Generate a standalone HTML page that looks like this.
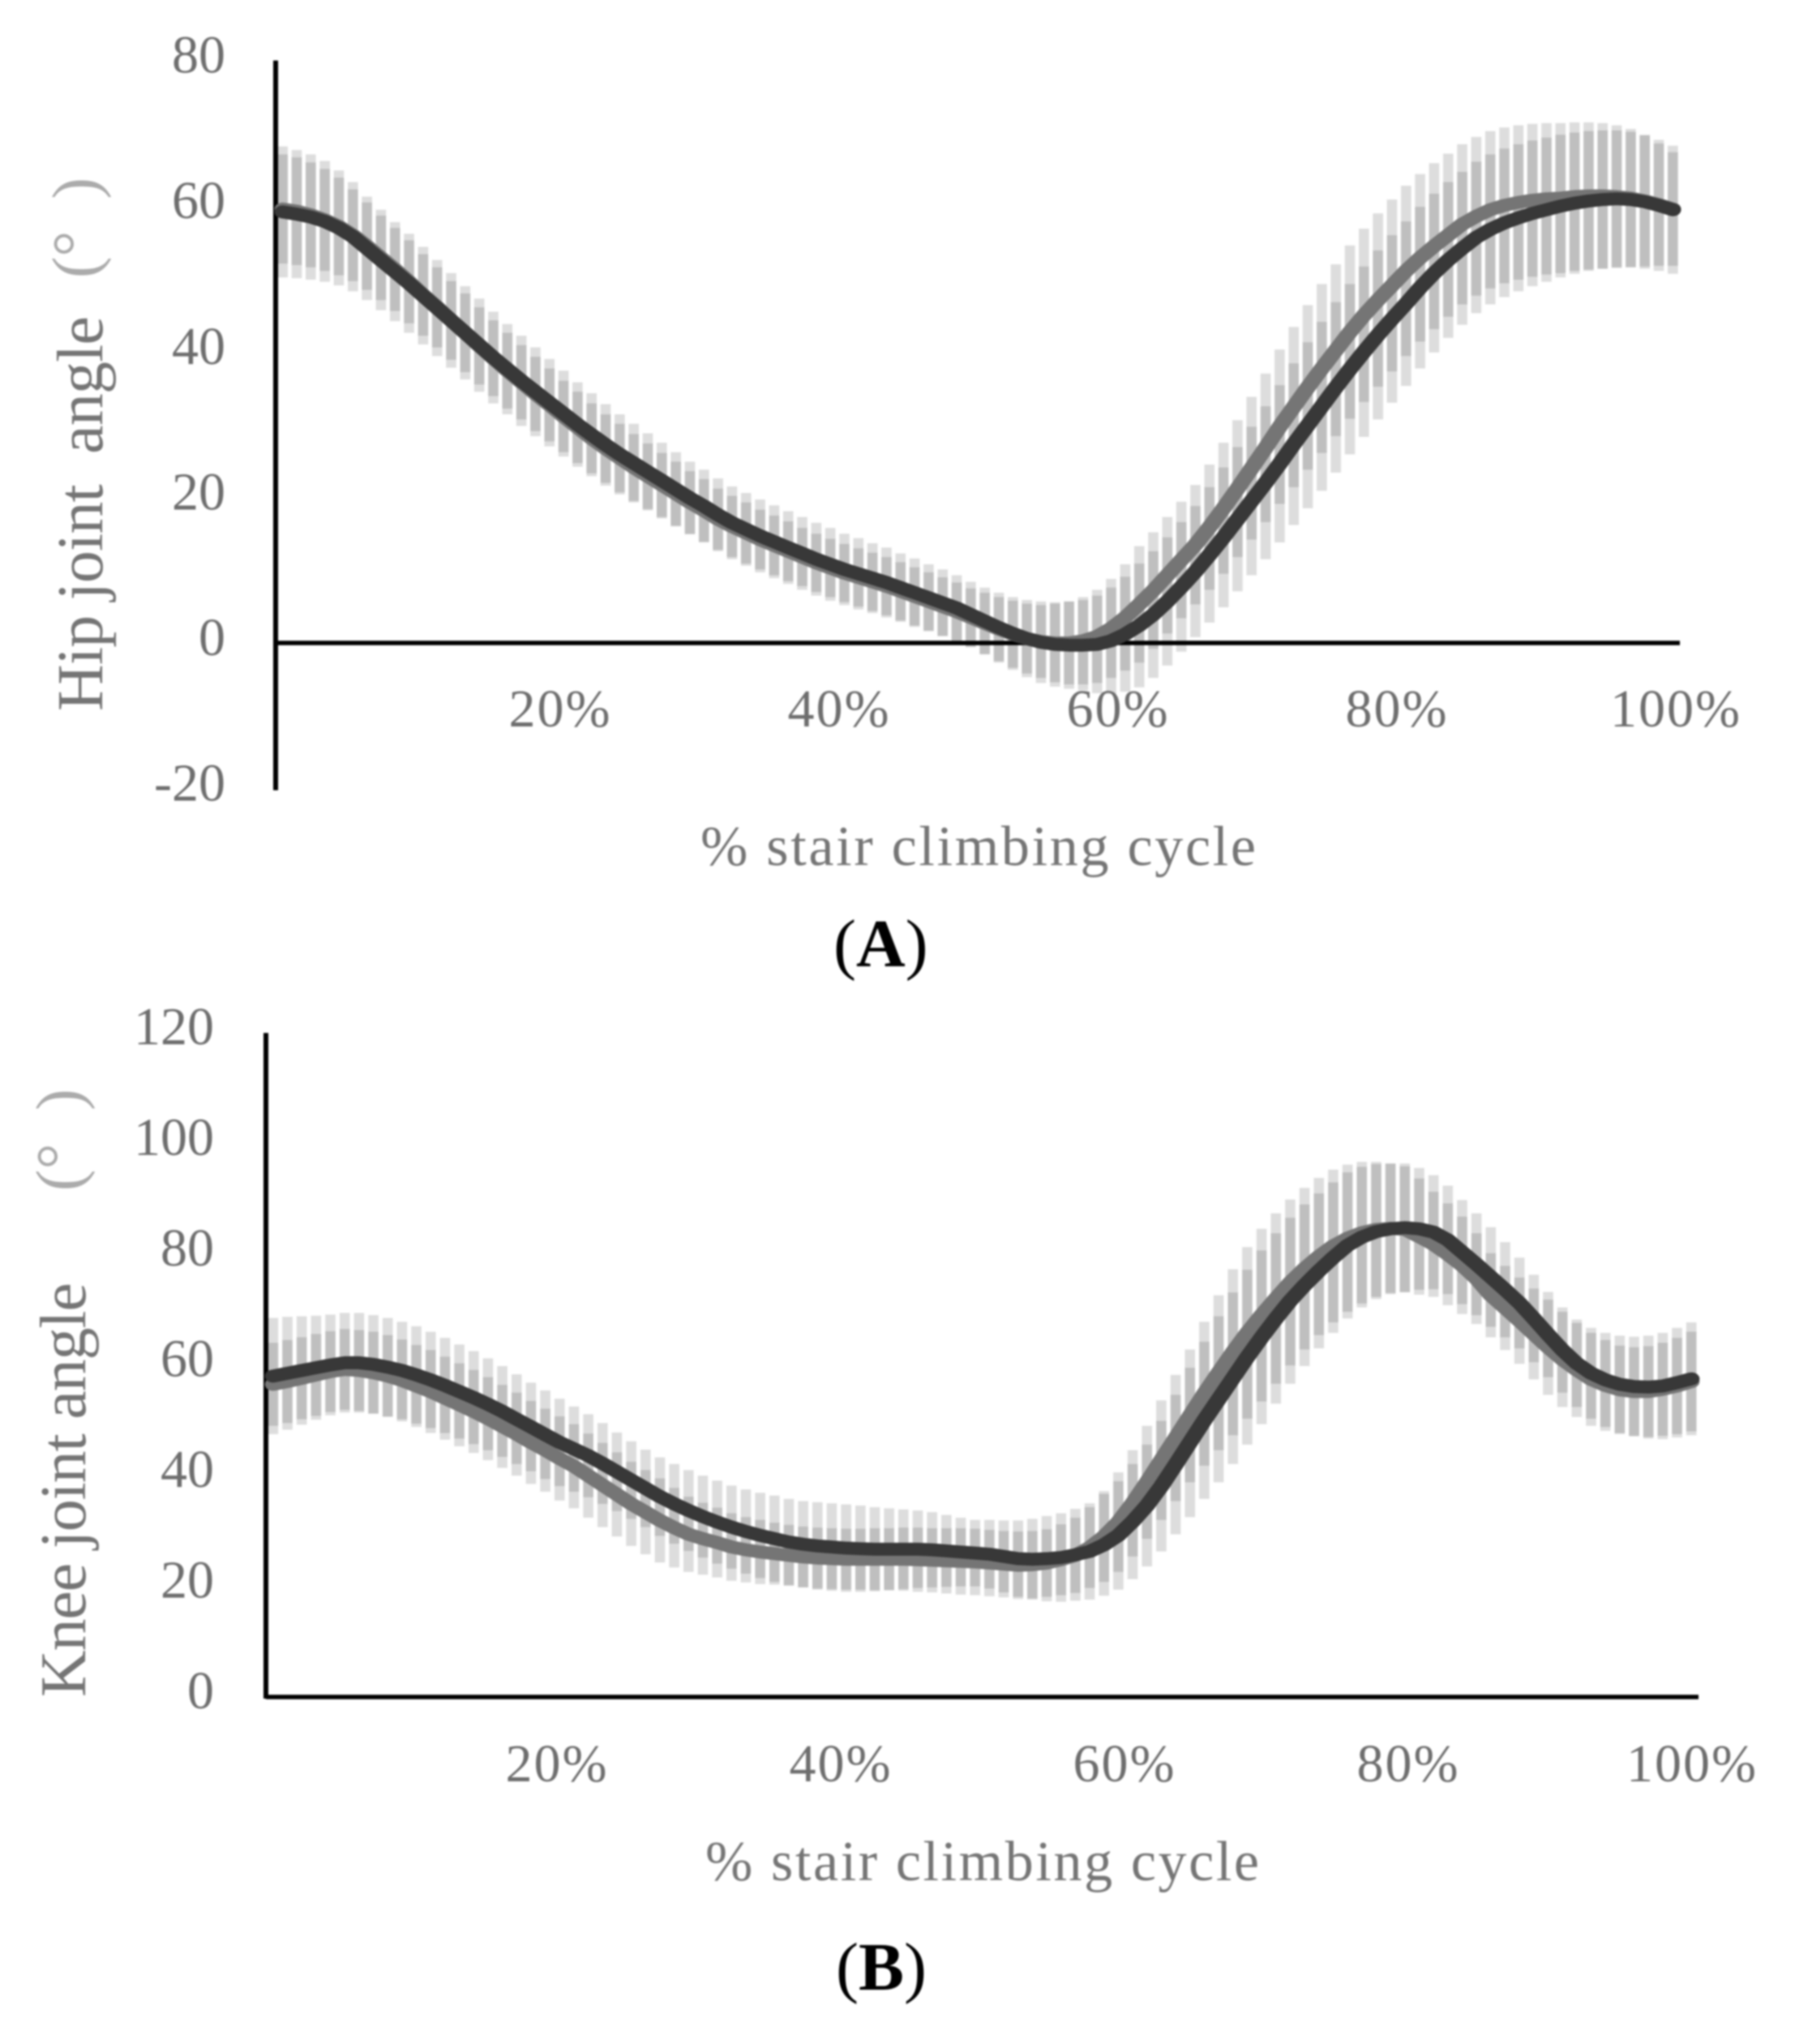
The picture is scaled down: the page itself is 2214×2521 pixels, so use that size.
<!DOCTYPE html>
<html lang="en">
<head>
<meta charset="utf-8">
<title>Hip and knee joint angle during stair climbing</title>
<style>
html,body{margin:0;padding:0;background:#fff;}
body{width:2214px;height:2521px;overflow:hidden;}
svg{display:block;filter:blur(1px);}
text{font-family:"Liberation Serif","Noto Serif CJK SC",serif;}
.tick{font-size:66px;fill:#6e6e6e;}
.title{fill:#757575;}
.paren{fill:#ababab;}
.caption{font-size:84px;fill:#000;}
</style>
</head>
<body>
<svg id="fig" xmlns="http://www.w3.org/2000/svg" width="2214" height="2521" viewBox="0 0 2214 2521">
  <rect x="0" y="0" width="2214" height="2521" fill="#fff"/>
  <g id="chartA"></g>
  <g id="chartB"></g>

  <text class="title" x="864" y="1067" font-size="70" textLength="685">% stair climbing cycle</text>
  <text class="title" transform="translate(126 877) rotate(-90)" x="0" y="0" font-size="80" textLength="487">Hip joint&#160;&#160;angle</text>
  <text class="paren" transform="translate(120 343) rotate(-90)" x="0" y="0" font-size="80" textLength="124">(°&#160;&#160;)</text>
  <text class="caption" x="1028" y="1192">(<tspan font-weight="bold">A</tspan>)</text>

  <text class="title" x="870" y="2319" font-size="70" textLength="683">% stair climbing cycle</text>
  <text class="title" transform="translate(105 2093) rotate(-90)" x="0" y="0" font-size="80" textLength="511">Knee joint angle</text>
  <text class="paren" transform="translate(100 1469) rotate(-90)" x="0" y="0" font-size="80" textLength="126">(°&#160;&#160;)</text>
  <text class="caption" x="1031" y="2454">(<tspan font-weight="bold">B</tspan>)</text>
</svg>
<script>
// ---------- tick labels ----------
var xTickPercents = [20, 40, 60, 80, 100];
var hipYTicks = [80, 60, 40, 20, 0, -20];
var kneeYTicks = [120, 100, 80, 60, 40, 20, 0];

// ---------- hip joint angle (one value per 1% of cycle) ----------
var hipDarkMean = [59.2,58.9,58.5,57.9,57.0,55.8,54.2,52.6,51.0,49.4,47.7,46.0,44.3,42.6,40.9,39.2,37.6,36.0,34.5,33.0,
31.5,30.0,28.6,27.2,25.9,24.7,23.5,22.3,21.1,19.9,18.8,17.6,16.5,15.6,14.7,13.9,13.1,12.3,11.5,10.8,
10.1,9.5,8.9,8.3,7.6,6.9,6.2,5.5,4.8,3.9,3.0,2.1,1.3,0.6,0.1,-0.2,-0.3,-0.3,-0.2,0.3,
1.2,2.4,3.9,5.7,7.7,9.8,12.1,14.5,17.0,19.5,22.0,24.6,27.3,29.9,32.5,35.1,37.6,40.0,42.3,44.5,
46.6,48.8,50.8,52.6,54.2,55.7,56.8,57.7,58.4,59.0,59.5,60.0,60.4,60.7,60.9,61.0,60.9,60.6,60.1,59.5];
var hipGrayMean = [59.6,59.3,58.8,58.1,57.2,56.0,54.5,52.9,51.3,49.6,47.8,46.1,44.3,42.6,40.8,39.1,37.4,35.8,34.2,32.7,
31.1,29.6,28.1,26.7,25.4,24.1,22.9,21.7,20.5,19.3,18.2,17.0,16.0,15.1,14.2,13.4,12.6,11.8,11.0,10.3,
9.6,9.0,8.4,7.8,7.1,6.4,5.7,5.0,4.3,3.5,2.7,1.9,1.2,0.6,0.2,0.0,0.0,0.3,0.9,2.0,
3.5,5.3,7.2,9.3,11.4,13.5,15.9,18.5,21.2,24.0,26.8,29.7,32.4,35.1,37.7,40.2,42.7,45.0,47.1,49.1,
51.1,52.9,54.5,56.0,57.5,58.6,59.5,60.1,60.5,60.8,61.0,61.1,61.3,61.4,61.4,61.3,61.1,60.7,60.2,59.6];
var hipDarkSd = [9.0,8.8,8.6,8.3,7.9,7.5,7.1,6.9,6.8,6.8,6.7,6.6,6.5,6.4,6.4,6.3,6.2,6.2,6.1,6.0,
5.9,5.8,5.7,5.6,5.5,5.4,5.3,5.2,5.1,5.0,5.0,5.0,5.0,5.0,5.0,5.0,5.0,5.0,5.0,5.0,
4.9,4.9,4.8,4.8,4.7,4.7,4.6,4.6,4.5,4.5,4.6,4.8,5.0,5.3,5.6,5.8,6.0,6.2,6.7,7.3,
7.9,8.5,8.7,8.8,8.9,9.0,9.3,9.6,9.9,10.2,10.5,10.8,11.1,11.4,11.6,11.7,11.7,11.7,11.6,11.5,
11.3,11.1,10.9,10.7,10.5,10.4,10.3,10.2,10.1,10.0,9.9,9.8,9.7,9.6,9.5,9.4,9.3,9.2,9.0,8.8];
var hipGraySd = [7.5,7.4,7.2,7.0,6.7,6.3,6.0,5.8,5.7,5.7,5.6,5.5,5.4,5.4,5.3,5.2,5.2,5.1,5.1,5.0,
4.9,4.9,4.8,4.7,4.7,4.6,4.5,4.4,4.4,4.3,4.3,4.2,4.2,4.2,4.1,4.1,4.1,4.0,4.0,4.0,
4.0,4.0,4.0,4.0,4.0,4.0,4.0,4.0,4.0,4.0,4.2,4.4,4.6,4.8,5.0,5.4,5.7,6.0,6.4,6.8,
7.3,8.0,8.0,8.0,8.0,8.2,8.6,9.0,9.4,9.8,10.2,10.6,11.0,11.3,11.6,11.8,11.9,11.9,11.9,11.8,
11.7,11.5,11.4,11.2,11.0,10.9,10.8,10.7,10.6,10.5,10.4,10.3,10.2,10.1,10.0,9.8,9.5,9.0,8.4,7.8];

// ---------- knee joint angle (one value per 1% of cycle) ----------
var kneeDarkMean = [58.0,58.5,59.0,59.5,60.0,60.4,60.4,60.1,59.6,59.0,58.2,57.3,56.3,55.2,54.1,52.9,51.6,50.2,48.8,47.4,
46.0,44.8,43.6,42.2,40.7,39.2,37.7,36.2,34.9,33.7,32.6,31.6,30.7,29.9,29.2,28.6,28.0,27.6,27.3,27.1,
26.9,26.8,26.7,26.7,26.7,26.7,26.6,26.4,26.2,26.0,25.8,25.4,25.0,24.9,25.0,25.2,25.7,26.3,27.5,29.2,
31.7,34.6,38.1,42.0,46.0,50.0,53.8,57.6,61.4,65.0,68.4,71.6,74.4,77.0,79.4,81.6,83.1,84.1,84.6,84.8,
84.6,84.0,82.6,80.4,78.2,75.9,73.6,71.2,68.4,65.5,62.7,60.3,58.5,57.3,56.5,56.1,56.0,56.2,56.8,57.5];
var kneeGrayMean = [56.5,57.0,57.6,58.2,58.8,59.2,59.0,58.6,58.0,57.2,56.2,55.2,54.0,52.8,51.6,50.3,48.9,47.5,46.0,44.6,
43.1,41.7,40.0,38.3,36.6,34.9,33.4,31.9,30.6,29.4,28.6,27.9,27.1,26.6,26.2,25.9,25.6,25.3,25.1,25.0,
24.9,24.9,24.9,24.9,24.9,24.8,24.7,24.6,24.5,24.4,24.2,24.0,23.8,23.9,24.2,24.8,25.6,27.0,29.0,31.6,
35.0,38.8,42.8,46.8,50.8,54.8,58.6,62.3,65.8,69.0,72.0,74.9,77.4,79.6,81.5,82.9,83.9,84.5,84.7,84.5,
83.2,81.8,80.0,78.0,75.6,72.6,70.3,68.0,65.6,63.2,61.0,59.1,57.4,56.3,55.5,55.2,55.2,55.6,56.2,57.0];
var kneeDarkSd = [10.5,10.2,9.8,9.4,9.1,9.0,9.0,8.9,8.9,8.8,8.8,8.7,8.6,8.5,8.4,8.3,8.2,8.1,8.0,8.0,
7.9,7.7,7.5,7.3,7.1,7.0,7.0,7.1,7.2,7.3,7.4,7.5,7.5,7.6,7.7,7.8,7.8,7.8,7.9,7.9,
7.9,7.8,7.6,7.4,7.2,7.0,6.8,6.5,6.2,6.0,6.2,6.5,6.9,7.3,7.7,8.0,8.3,8.7,9.2,9.8,
10.4,11.0,11.8,12.6,13.5,14.2,15.0,15.5,15.8,15.7,15.4,15.0,14.6,14.0,13.6,13.2,12.7,12.2,11.8,11.6,
11.0,10.3,9.8,9.4,9.2,9.0,8.6,8.2,7.9,7.7,7.7,7.9,8.2,8.5,8.8,9.0,9.3,9.6,9.9,10.2];
var kneeGraySd = [7.5,7.5,7.4,7.4,7.3,7.3,7.3,7.4,7.4,7.4,7.4,7.5,7.5,7.5,7.5,7.5,7.5,7.5,7.5,7.5,
7.6,7.6,7.6,7.6,7.6,7.6,7.6,7.6,7.2,6.8,6.5,6.3,6.1,5.9,5.8,5.6,5.5,5.5,5.5,5.5,
5.5,5.5,5.6,5.6,5.7,5.8,5.8,5.9,6.0,6.0,6.0,6.0,6.1,6.1,6.1,6.4,6.8,7.3,8.2,9.0,
9.6,10.2,10.8,11.4,12.0,13.0,14.0,15.0,15.5,15.6,15.4,15.0,14.6,14.2,13.8,13.3,12.8,12.2,11.7,11.4,
10.5,9.5,9.2,8.8,8.2,7.6,7.6,7.8,8.2,8.6,8.6,8.5,8.4,8.2,8.0,8.0,8.2,8.4,8.7,9.0];

var SVGNS = 'http://www.w3.org/2000/svg';
var STROKE_STRETCH = 1.27;
function mk(parent, tag) {
  var el = document.createElementNS(SVGNS, tag);
  parent.appendChild(el);
  return el;
}

function drawChart(parent, cfg) {
  var n = cfg.dark.length;
  var step = (cfg.xEnd - cfg.xStart) / n;
  function xCat(i) { return cfg.xStart + step * (i + 0.5); }
  function yVal(v) { return cfg.yZero - cfg.pxPerUnit * v; }
  function xLabel(p) { return cfg.labelA + cfg.labelB * p; }

  // axes
  var xAxis = mk(parent, 'line');
  
  
  xAxis.setAttribute('x1', cfg.xStart);
  xAxis.setAttribute('x2', cfg.xEnd);
  xAxis.setAttribute('y1', yVal(0));
  xAxis.setAttribute('y2', yVal(0));
  xAxis.setAttribute('stroke', '#000');
  xAxis.setAttribute('stroke-width', 5.5);

  var yAxis = mk(parent, 'line');
  
  
  yAxis.setAttribute('x1', cfg.xStart);
  yAxis.setAttribute('x2', cfg.xStart);
  yAxis.setAttribute('y1', yVal(cfg.yTicks[0]));
  yAxis.setAttribute('y2', yVal(cfg.yTicks[cfg.yTicks.length - 1]) + 2);
  yAxis.setAttribute('stroke', '#000');
  yAxis.setAttribute('stroke-width', 6);

  // error bars
  function bars(mean, sd, label) {
    var g = mk(parent, 'g');
    
    
    for (var i = 0; i < mean.length; i++) {
      var top = yVal(mean[i] + sd[i]);
      var bottom = yVal(mean[i] - sd[i]);
      var r = mk(g, 'rect');
      
      
      r.setAttribute('x', xCat(i) - 6.3);
      r.setAttribute('width', 12.6);
      r.setAttribute('y', top);
      r.setAttribute('height', bottom - top);
      r.setAttribute('fill', '#000');
      r.setAttribute('fill-opacity', 0.135);
    }
  }
  bars(cfg.gray, cfg.graySd, 'gray-series');
  bars(cfg.dark, cfg.darkSd, 'dark-series');

  // mean lines (drawn in a horizontally stretched space so the stroke is wider on steep parts)
  function meanLine(mean, color, label) {
    var d = '';
    for (var i = 0; i < mean.length; i++) {
      d += (i ? 'L' : 'M') + (xCat(i) / STROKE_STRETCH).toFixed(2) + ' ' + yVal(mean[i]).toFixed(1);
    }
    var p = mk(parent, 'path');
    
    
    p.setAttribute('transform', 'scale(' + STROKE_STRETCH + ' 1)');
    p.setAttribute('d', d);
    p.setAttribute('fill', 'none');
    p.setAttribute('stroke', color);
    p.setAttribute('stroke-width', 16);
    p.setAttribute('stroke-linecap', 'round');
    p.setAttribute('stroke-linejoin', 'round');
  }
  meanLine(cfg.gray, '#757575', 'gray-series');
  meanLine(cfg.dark, '#383838', 'dark-series');

  // y tick labels
  cfg.yTicks.forEach(function (v) {
    var t = mk(parent, 'text');
    
    
    t.setAttribute('class', 'tick');
    t.setAttribute('x', cfg.yLabelX);
    t.setAttribute('y', yVal(v) + cfg.yLabelDy);
    t.setAttribute('text-anchor', 'end');
    t.textContent = String(v);
  });

  // x tick labels
  cfg.xTicks.forEach(function (p) {
    var t = mk(parent, 'text');
    
    
    t.setAttribute('class', 'tick');
    t.setAttribute('x', xLabel(p));
    t.setAttribute('y', cfg.xLabelY);
    t.setAttribute('text-anchor', 'middle');
    t.setAttribute('letter-spacing', '2');
    t.textContent = p + '%';
  });
}

drawChart(document.getElementById('chartA'), {
  dark: hipDarkMean, gray: hipGrayMean, darkSd: hipDarkSd, graySd: hipGraySd,
  xStart: 340, xEnd: 2072, yZero: 793, pxPerUnit: 8.98,
  yTicks: hipYTicks, xTicks: xTickPercents,
  yLabelX: 278, yLabelDy: 15, xLabelY: 896, labelA: 347, labelB: 17.2
});
drawChart(document.getElementById('chartB'), {
  dark: kneeDarkMean, gray: kneeGrayMean, darkSd: kneeDarkSd, graySd: kneeGraySd,
  xStart: 328, xEnd: 2095, yZero: 2093, pxPerUnit: 6.825,
  yTicks: kneeYTicks, xTicks: xTickPercents,
  yLabelX: 264, yLabelDy: 14, xLabelY: 2197, labelA: 337, labelB: 17.5
});
</script>
</body>
</html>
